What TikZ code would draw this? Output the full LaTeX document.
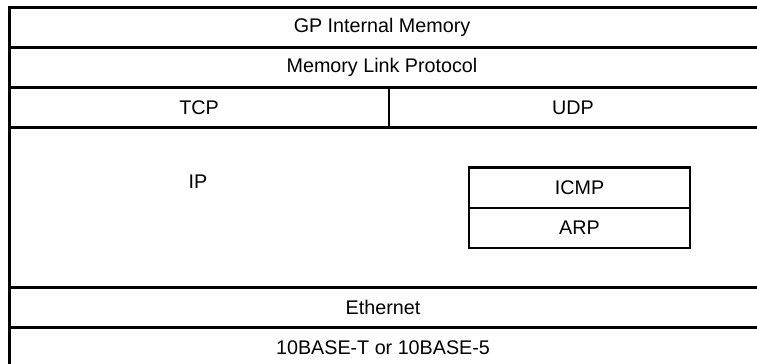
\documentclass[tikz,border=0pt]{standalone}
\usepackage{fontspec}
\setmainfont{Liberation Sans}
\begin{document}
\begin{tikzpicture}[x=1bp,y=-1bp,
  lbl/.style={font=\fontsize{19.8}{22}\selectfont, inner sep=0pt, anchor=center},
  cell/.style={minimum width=221bp, minimum height=40bp, inner sep=0pt, font=\fontsize{19.8}{22}\selectfont},
  rule/.style={line width=2.4bp}]
\useasboundingbox (0,0) rectangle (757,363);
% frame and rows
\draw[rule] (760,7.5) -- (9.5,7.5) -- (9.5,366);
\draw[rule] (9.5,47.5) -- (760,47.5);
\draw[rule] (9.5,87.5) -- (760,87.5);
\draw[rule] (9.5,127.5) -- (760,127.5);
\draw[rule] (9.5,287.5) -- (760,287.5);
\draw[rule] (9.5,327.5) -- (760,327.5);
\draw[rule] (389,87.5) -- (389,127.5);
% labels
\node[lbl] (gp) at (382,27.5) {GP Internal Memory};
\node[lbl] (mlp) at (382,67.5) {Memory Link Protocol};
\node[lbl] (tcp) at (199,107.5) {TCP};
\node[lbl] (udp) at (573,107.5) {UDP};
\node[lbl] (ip) at (198,182) {IP};
\node[cell] (icmp) at (579.5,187.5) {ICMP};
\node[cell, anchor=north] (arp) at (icmp.south) {ARP};
\draw[rule] (icmp.north west) rectangle (arp.south east);
\draw[rule] (icmp.south west) -- (icmp.south east);
\node[lbl] (eth) at (383,307.5) {Ethernet};
\node[lbl] (phy) at (383,347.5) {10BASE-T or 10BASE-5};
\end{tikzpicture}
\end{document}
